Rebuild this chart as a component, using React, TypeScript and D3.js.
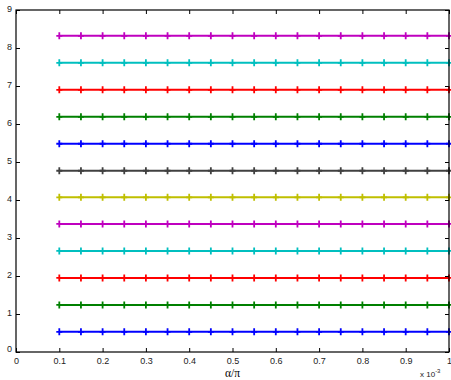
import * as d3 from "d3";
import { useEffect, useRef } from "react";

// x positions (in units of 10^-3)
const xValues = [0.1, 0.15, 0.2, 0.25, 0.3, 0.35, 0.4, 0.45, 0.5, 0.55, 0.6, 0.65, 0.7, 0.75, 0.8, 0.85, 0.9, 0.95, 1.0];
// constant level of each series, bottom to top
const levels = [0.53, 1.24, 1.95, 2.66, 3.37, 4.07, 4.77, 5.48, 6.19, 6.9, 7.61, 8.32];
const colors = ["#0000ff", "#008000", "#ff0000", "#00bfbf", "#bf00bf", "#bfbf00", "#404040", "#0000ff", "#008000", "#ff0000", "#00bfbf", "#bf00bf"];
const xTicks = [0, 0.1, 0.2, 0.3, 0.4, 0.5, 0.6, 0.7, 0.8, 0.9, 1];
const xTickLabels = ["0", "0.1", "0.2", "0.3", "0.4", "0.5", "0.6", "0.7", "0.8", "0.9", "1"];
const yTicks = [0, 1, 2, 3, 4, 5, 6, 7, 8, 9];

const App = () => {
  const ref = useRef<SVGSVGElement | null>(null);

  useEffect(() => {
    const width = 451;
    const height = 380;
    const margin = { top: 10, right: 2, bottom: 28, left: 16 };

    const svg = d3.select(ref.current);
    svg.selectAll("*").remove();

    const x = d3.scaleLinear().domain([0, 1]).range([margin.left, width - margin.right]);
    const y = d3.scaleLinear().domain([0, 9]).range([height - margin.bottom, margin.top]);

    const font = "Arial, 'Liberation Sans', Helvetica, sans-serif";

    // series
    const line = d3
      .line<number>()
      .x((d) => x(d))
      .y(0);

    levels.forEach((lv, i) => {
      const g = svg.append("g").attr("transform", `translate(0, ${y(lv)})`);
      g.append("path")
        .attr("d", line(xValues))
        .attr("fill", "none")
        .attr("stroke", colors[i])
        .attr("stroke-width", 2);
      g.selectAll("path.mk")
        .data(xValues)
        .enter()
        .append("path")
        .attr("class", "mk")
        .attr("d", (d) => `M${x(d) - 3},0H${x(d) + 3}M${x(d)},-3.5V3.5`)
        .attr("stroke", colors[i])
        .attr("stroke-width", 1.8);
    });

    // axes box
    const x0 = x(0), x1 = x(1), y0 = y(0), y1 = y(9);
    svg.append("rect")
      .attr("x", x0)
      .attr("y", y1)
      .attr("width", x1 - x0)
      .attr("height", y0 - y1)
      .attr("fill", "none")
      .attr("stroke", "#000")
      .attr("stroke-width", 1.2);

    // inward ticks
    const bottom = d3.axisBottom(x).tickValues(xTicks).tickSize(-4).tickFormat((_, i) => xTickLabels[i]);
    const gb = svg.append("g").attr("transform", `translate(0, ${y0})`).call(bottom);
    gb.select(".domain").remove();
    gb.selectAll("text").attr("y", 6).attr("font-family", font).attr("font-size", 9).attr("fill", "#222");

    const top = d3.axisTop(x).tickValues(xTicks).tickSize(-4).tickFormat(() => "");
    const gt = svg.append("g").attr("transform", `translate(0, ${y1})`).call(top);
    gt.select(".domain").remove();

    const left = d3.axisLeft(y).tickValues(yTicks).tickSize(-4).tickFormat(d3.format("d"));
    const gl = svg.append("g").attr("transform", `translate(${x0}, 0)`).call(left);
    gl.select(".domain").remove();
    gl.selectAll("text").attr("x", -4).attr("dy", "0.2em").attr("font-family", font).attr("font-size", 9).attr("fill", "#222");

    const right = d3.axisRight(y).tickValues(yTicks).tickSize(-4).tickFormat(() => "");
    const gr = svg.append("g").attr("transform", `translate(${x1}, 0)`).call(right);
    gr.select(".domain").remove();

    svg.selectAll(".tick line").attr("stroke", "#000");
    // shift zero label up like MATLAB
    gl.selectAll<SVGTextElement, number>("text").filter((d) => d === 0).attr("dy", "-0.1em");

    // axis label
    svg.append("text")
      .attr("x", (x0 + x1) / 2)
      .attr("y", height - 3)
      .attr("text-anchor", "middle")
      .attr("font-family", "'Liberation Serif', 'Times New Roman', serif")
      .attr("font-size", 11.5)
      .text("α/π");

    // exponent note
    const ex = svg.append("text")
      .attr("x", width - 31)
      .attr("y", height - 3)
      .attr("font-family", font)
      .attr("font-size", 8)
      .attr("fill", "#222");
    ex.append("tspan").text("x 10");
    ex.append("tspan").attr("dy", -4).attr("font-size", 6).text("-3");
  }, []);

  return (
    <svg
      ref={ref}
      width={451}
      height={380}
      style={{ position: "absolute", left: 0, top: 0, background: "#fff" }}
    />
  );
};

export default App;
